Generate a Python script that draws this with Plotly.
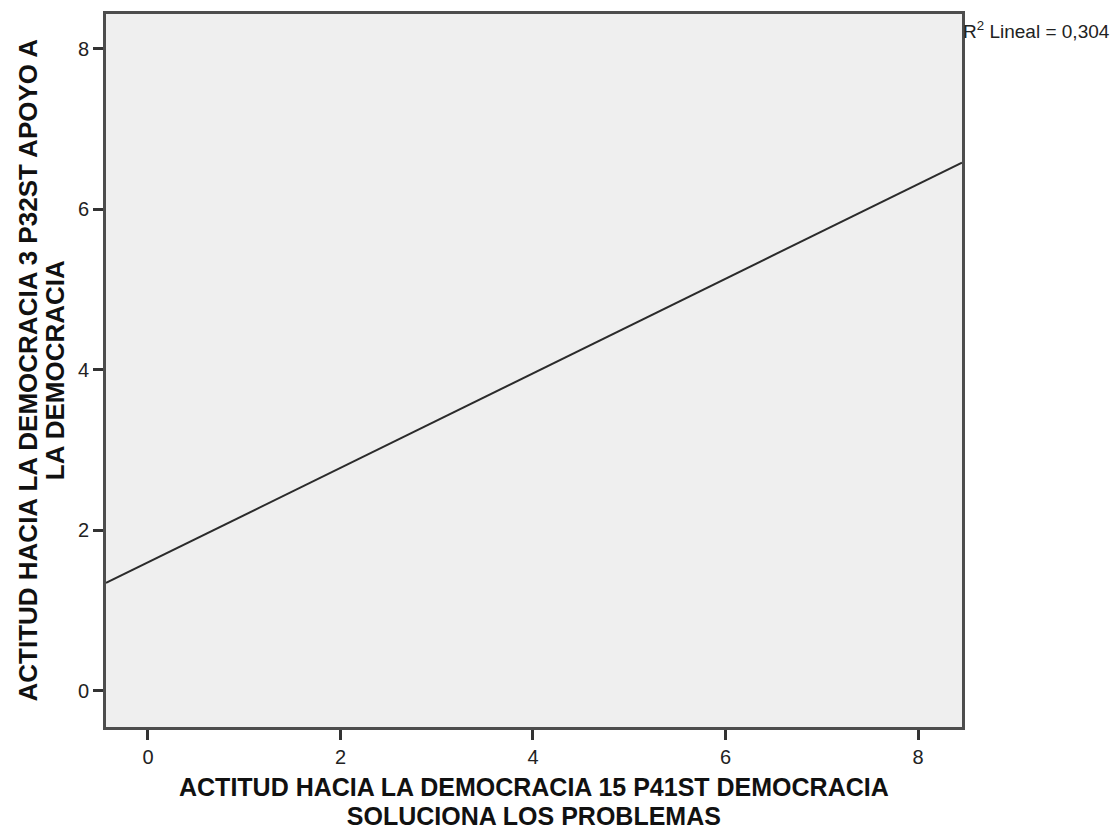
import plotly.graph_objects as go

# Fitted linear regression line (endpoints span the full x range)
line_x = [-0.436, 8.457]
line_y = [1.346, 6.585]
r2_text = "R<sup>2</sup> Lineal = 0,304"

x_ticks = [0, 2, 4, 6, 8]
y_ticks = [0, 2, 4, 6, 8]

x_title_lines = ["ACTITUD HACIA LA DEMOCRACIA 15 P41ST DEMOCRACIA",
                 "SOLUCIONA LOS PROBLEMAS"]
y_title_lines = ["ACTITUD HACIA LA DEMOCRACIA 3 P32ST APOYO A",
                 "LA DEMOCRACIA"]

FONT = "Liberation Sans, Arial, sans-serif"


def tight_lines(lines, px):
    # large bold glyphs inside a smaller base font keep the line spacing tight
    return "<br>".join(
        '<span style="font-size:%dpx"><b>%s</b></span>' % (px, s) for s in lines)


fig = go.Figure()
fig.add_trace(go.Scatter(
    x=line_x, y=line_y, mode="lines",
    line=dict(color="#2b2b2b", width=2),
    showlegend=False, hoverinfo="skip",
))

axis_common = dict(
    showgrid=False, zeroline=False,
    showline=True, linecolor="#4d4d4d", linewidth=3, mirror=True,
    ticks="outside", ticklen=10, tickwidth=2.5, tickcolor="#333333",
    tickfont=dict(family=FONT, size=20, color="#222222"),
)

annotations = [
    dict(text=r2_text, x=1.0, y=1.0, xref="paper", yref="paper",
         xanchor="left", yanchor="top", xshift=-1, yshift=-2, showarrow=False,
         font=dict(family=FONT, size=19, color="#222222")),
    dict(text=tight_lines(x_title_lines, 25), x=0.5, y=0,
         xref="paper", yref="paper", xanchor="center", yanchor="middle",
         yshift=-74, showarrow=False,
         font=dict(family=FONT, size=22.5, color="#111111")),
    dict(text=tight_lines(y_title_lines, 26), x=0, y=0.5,
         xref="paper", yref="paper", xanchor="center", yanchor="middle",
         xshift=-65, showarrow=False, textangle=-90,
         font=dict(family=FONT, size=21, color="#111111")),
]

fig.update_layout(
    width=1116, height=833,
    margin=dict(l=106, r=154, t=14, b=106),
    plot_bgcolor="#efefef", paper_bgcolor="white",
    xaxis=dict(range=[-0.436, 8.457], tickvals=x_ticks, **axis_common),
    yaxis=dict(range=[-0.449, 8.436], tickvals=y_ticks, **axis_common),
    annotations=annotations,
)

fig.write_html("out.html")
